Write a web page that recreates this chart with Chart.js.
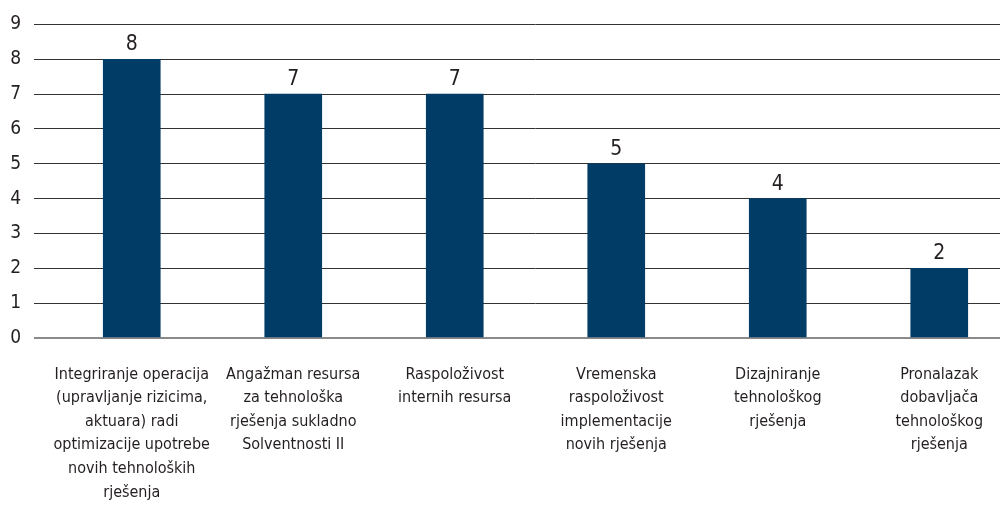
<!DOCTYPE html>
<html>
<head>
<meta charset="utf-8">
<script src="https://cdn.jsdelivr.net/npm/chart.js@4.4.1/dist/chart.umd.min.js"></script>
<style>
  html, body { margin: 0; padding: 0; background: #ffffff; overflow: hidden; width: 1000px; height: 513px; }
  #wrap { position: absolute; left: 0; top: 0; width: 1020px; height: 513px; }
</style>
</head>
<body>
<div id="wrap"><canvas id="c" width="1020" height="513"></canvas></div>
<script>
const categories = [
  ["Integriranje operacija", "(upravljanje rizicima,", "aktuara) radi", "optimizacije upotrebe", "novih tehnoloških", "rješenja"],
  ["Angažman resursa", "za tehnološka", "rješenja sukladno", "Solventnosti II"],
  ["Raspoloživost", "internih resursa"],
  ["Vremenska", "raspoloživost", "implementacije", "novih rješenja"],
  ["Dizajniranje", "tehnološkog", "rješenja"],
  ["Pronalazak", "dobavljača", "tehnološkog", "rješenja"]
];
const values = [8, 7, 7, 5, 4, 2];
const yTicks = [0, 1, 2, 3, 4, 5, 6, 7, 8, 9];

const FONT = "'Liberation Sans Narrow', 'DejaVu Sans Condensed', 'Arial Narrow', sans-serif";
const TEXT = '#231f20';

const valueLabels = {
  id: 'valueLabels',
  afterDatasetsDraw(chart) {
    const ctx = chart.ctx;
    const meta = chart.getDatasetMeta(0);
    ctx.save();
    ctx.font = '21px ' + FONT;
    ctx.fillStyle = TEXT;
    ctx.textAlign = 'center';
    ctx.textBaseline = 'alphabetic';
    meta.data.forEach((bar, i) => {
      ctx.fillText(String(values[i]), bar.x, bar.y - 9);
    });
    ctx.restore();
  }
};

new Chart(document.getElementById('c'), {
  type: 'bar',
  data: {
    labels: categories,
    datasets: [{
      data: values,
      backgroundColor: '#003c66',
      borderWidth: 0,
      barThickness: 57
    }]
  },
  options: {
    responsive: false,
    animation: false,
    devicePixelRatio: 1,
    layout: { padding: { left: 0, right: 0, top: 23, bottom: 0 } },
    plugins: { legend: { display: false }, tooltip: { enabled: false } },
    scales: {
      x: {
        grid: { display: false, drawTicks: false },
        border: { display: false },
        ticks: {
          color: TEXT,
          font: { family: FONT, size: 16, lineHeight: 1.47 },
          padding: 25,
          maxRotation: 0,
          minRotation: 0,
          autoSkip: false
        },
        afterFit(scale) { scale.height = 175; }
      },
      y: {
        min: 0,
        max: 9,
        afterBuildTicks(scale) { scale.ticks = yTicks.map(v => ({ value: v })); },
        grid: {
          color: (c) => c.tick && c.tick.value === 0 ? '#8a8a8a' : '#333333',
          lineWidth: (c) => c.tick && c.tick.value === 0 ? 2 : 1,
          tickColor: (c) => c.tick && c.tick.value === 0 ? '#8a8a8a' : '#333333',
          tickLength: 17,
          drawTicks: true
        },
        border: { display: false },
        ticks: {
          color: TEXT,
          font: { family: FONT, size: 19 },
          padding: 13
        },
        afterFit(scale) { scale.width = 51; }
      }
    }
  },
  plugins: [valueLabels]
});
</script>
</body>
</html>
